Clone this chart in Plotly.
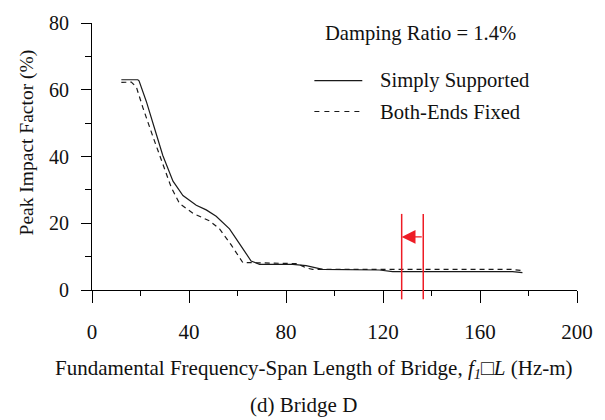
import plotly.graph_objects as go

# Data
x_ss = [12.1, 18.9, 19.4, 22.4, 25.8, 29.2, 33.4, 37.5, 43.0, 47.1, 51.2, 56.7, 60.8, 65.6, 69.1, 82.8, 88.3, 95.1, 118.5, 124.0, 173.4, 177.5]
y_ss = [63.0, 63.0, 62.7, 56.5, 48.4, 40.3, 32.6, 28.3, 25.4, 24.0, 22.1, 18.3, 13.9, 8.7, 7.7, 7.7, 7.3, 6.2, 6.0, 5.5, 5.5, 5.2]

x_bf = [12.1, 16.2, 18.3, 21.0, 25.1, 29.2, 32.7, 36.1, 41.6, 48.5, 52.6, 57.4, 62.2, 65.6, 84.7, 88.3, 91.0, 173.0, 177.5]
y_bf = [62.2, 62.3, 60.8, 54.6, 46.0, 37.4, 30.7, 25.9, 23.0, 20.7, 18.3, 13.5, 8.2, 8.2, 7.9, 6.6, 6.2, 6.2, 5.8]

red_lines_x = [127.7, 136.6]
red_line_ytop = 22.8
red_line_ybot = -2.8
arrow_y = 15.9

x_ticks = [0, 40, 80, 120, 160, 200]
y_ticks = [0, 20, 40, 60, 80]

FONT = "Liberation Serif"
TXT = "#111111"
FS = 20.6

fig = go.Figure()
fig.add_trace(go.Scatter(x=x_ss, y=y_ss, mode="lines", name="Simply Supported",
                         line=dict(color="#1a1a1a", width=1.2), showlegend=False))
fig.add_trace(go.Scatter(x=x_bf, y=y_bf, mode="lines", name="Both-Ends Fixed",
                         line=dict(color="#1a1a1a", width=1.2, dash="5px,4px"), showlegend=False))

shapes = []
for xv in red_lines_x:
    shapes.append(dict(type="line", xref="x", yref="paper", x0=xv, x1=xv,
                       y0=red_line_ybot / 80, y1=red_line_ytop / 80,
                       line=dict(color="#ee1c25", width=1.5)))

# manual legend
leg_x0, leg_x1 = 0.4585, 0.5573
shapes.append(dict(type="line", xref="paper", yref="paper", x0=leg_x0, x1=leg_x1, y0=0.7844, y1=0.7844,
                   line=dict(color="#1a1a1a", width=1.2)))
shapes.append(dict(type="line", xref="paper", yref="paper", x0=leg_x0, x1=leg_x1, y0=0.6685, y1=0.6685,
                   line=dict(color="#1a1a1a", width=1.2, dash="5px,5px")))

annotations = [
    dict(x=red_lines_x[0], y=arrow_y, ax=red_lines_x[1], ay=arrow_y, xref="x", yref="y",
         axref="x", ayref="y", text="", showarrow=True, arrowhead=2, arrowsize=2.3,
         arrowwidth=1.2, arrowcolor="#ee1c25"),
    dict(x=0.6783, y=0.960, xref="paper", yref="paper", text="Damping Ratio = 1.4%",
         showarrow=False, font=dict(family=FONT, size=FS, color=TXT), xanchor="center", yanchor="middle"),
    dict(x=0.5903, y=0.7844, xref="paper", yref="paper", text="Simply Supported",
         showarrow=False, font=dict(family=FONT, size=FS, color=TXT), xanchor="left", yanchor="middle"),
    dict(x=0.5903, y=0.6685, xref="paper", yref="paper", text="Both-Ends Fixed",
         showarrow=False, font=dict(family=FONT, size=FS, color=TXT), xanchor="left", yanchor="middle"),
    dict(x=0.4575, y=-0.2966, xref="paper", yref="paper",
         text="Fundamental Frequency-Span Length of Bridge, <i>f<sub>1</sub></i>□<i>L</i> (Hz-m)",
         showarrow=False, font=dict(family=FONT, size=21, color=TXT), xanchor="center", yanchor="middle"),
    dict(x=0.437, y=-0.4295, xref="paper", yref="paper", text="(d) Bridge D",
         showarrow=False, font=dict(family=FONT, size=21, color=TXT), xanchor="center", yanchor="middle"),
    dict(x=-0.1344, y=0.552, xref="paper", yref="paper", text="Peak Impact Factor (%)", textangle=-90,
         showarrow=False, font=dict(family=FONT, size=19.5, color=TXT), xanchor="center", yanchor="middle"),
]

fig.update_layout(
    width=605, height=420,
    margin=dict(l=92, r=27, t=12, b=130),
    paper_bgcolor="white", plot_bgcolor="white",
    shapes=shapes, annotations=annotations,
    font=dict(family=FONT, size=20, color=TXT),
    xaxis=dict(range=[0, 200], tickvals=x_ticks, ticktext=[str(v) for v in x_ticks],
               showline=True, linecolor="black", linewidth=1, showgrid=False, zeroline=False,
               ticks="outside", ticklen=12, tickwidth=1, tickcolor="black",
               ticklabelstandoff=11, tickfont=dict(family=FONT, size=21, color=TXT),
               minor=dict(tickvals=[20, 60, 100, 140, 180], ticks="outside", ticklen=5,
                          tickwidth=1, tickcolor="black", showgrid=False)),
    yaxis=dict(range=[0, 80], tickvals=y_ticks, ticktext=[str(v) for v in y_ticks],
               showline=True, linecolor="black", linewidth=1, showgrid=False, zeroline=False,
               ticks="outside", ticklen=10, tickwidth=1, tickcolor="black",
               ticklabelstandoff=8, tickfont=dict(family=FONT, size=20, color=TXT),
               minor=dict(tickvals=[10, 30, 50, 70], ticks="outside", ticklen=6,
                          tickwidth=1, tickcolor="black", showgrid=False)),
)

fig.write_html("out.html")
